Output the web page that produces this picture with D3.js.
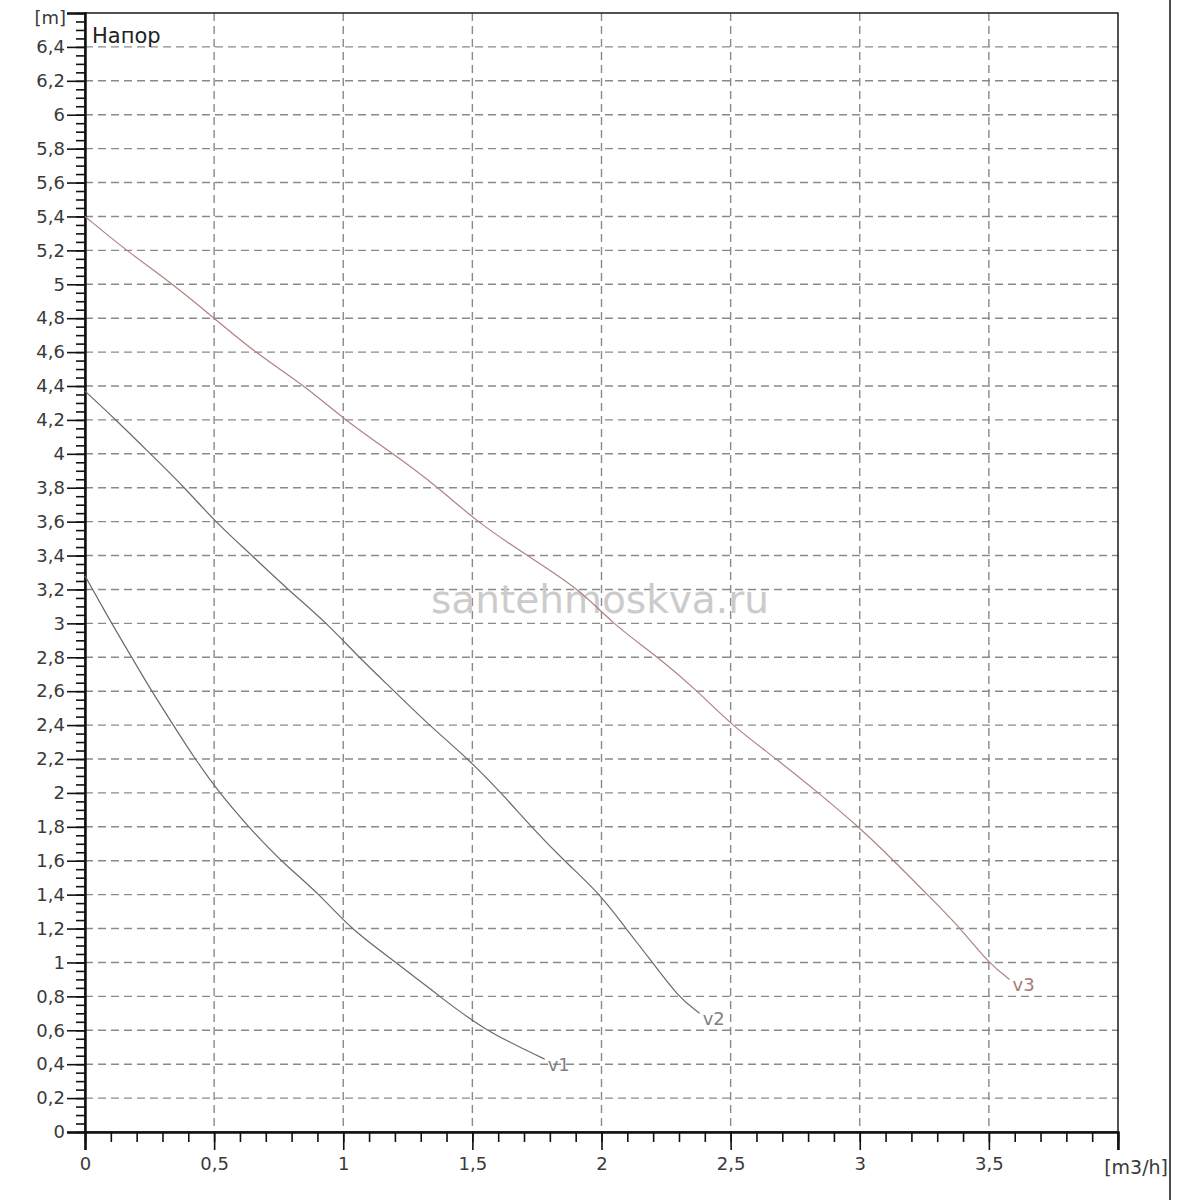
<!DOCTYPE html>
<html>
<head>
<meta charset="utf-8">
<script src="https://cdn.jsdelivr.net/npm/d3@7"></script>
<style>
  html, body { margin: 0; padding: 0; background: #fff; }
  svg { display: block; }
  text { font-family: "DejaVu Sans", Verdana, sans-serif; }
</style>
</head>
<body>
<svg id="chart" width="1200" height="1200"></svg>
<script>
// ---- data ----
const xTicks = [0, 0.5, 1, 1.5, 2, 2.5, 3, 3.5];
const yTicks = [0, 0.2, 0.4, 0.6, 0.8, 1, 1.2, 1.4, 1.6, 1.8, 2, 2.2, 2.4, 2.6, 2.8, 3, 3.2, 3.4, 3.6, 3.8, 4, 4.2, 4.4, 4.6, 4.8, 5, 5.2, 5.4, 5.6, 5.8, 6, 6.2, 6.4];
const seriesNames = ["v1", "v2", "v3"];
const v1Flow = [0, 0.103, 0.181, 0.258, 0.342, 0.426, 0.52, 0.633, 0.756, 0.911, 1.026, 1.205, 1.373, 1.545, 1.78];
const v1Head = [3.28, 3.0, 2.8, 2.6, 2.4, 2.2, 2.0, 1.8, 1.6, 1.4, 1.2, 1.0, 0.8, 0.6, 0.43];
const v2Flow = [0, 0.12, 0.253, 0.387, 0.503, 0.647, 0.785, 0.938, 1.06, 1.198, 1.332, 1.484, 1.612, 1.728, 1.855, 1.997, 2.094, 2.198, 2.295, 2.38];
const v2Head = [4.37, 4.2, 4.0, 3.8, 3.6, 3.4, 3.2, 3.0, 2.8, 2.6, 2.4, 2.2, 2.0, 1.8, 1.6, 1.4, 1.2, 1.0, 0.8, 0.7];
const v3Flow = [0, 0.159, 0.341, 0.5, 0.655, 0.853, 1.005, 1.194, 1.37, 1.516, 1.712, 1.918, 2.04, 2.22, 2.373, 2.503, 2.678, 2.84, 2.996, 3.132, 3.262, 3.392, 3.496, 3.58];
const v3Head = [5.4, 5.2, 5.0, 4.8, 4.6, 4.4, 4.2, 4.0, 3.8, 3.6, 3.4, 3.2, 3.0, 2.8, 2.6, 2.4, 2.2, 2.0, 1.8, 1.6, 1.4, 1.2, 1.0, 0.9];
const seriesColors = ["#6a6a6a", "#6a6a6a", "#b08282"];
const labelColors = ["#808080", "#808080", "#a87878"];

// ---- layout ----
const svg = d3.select("#chart");
const mLeft = 85, mRight = 1118, mTop = 13, mBottom = 1132;
const x = d3.scaleLinear().domain([0, 4]).range([mLeft, mRight]);
const y = d3.scaleLinear().domain([0, 6.6]).range([mBottom, mTop]);
const fmt = d => String(+d.toFixed(2)).replace(".", ",");
const FONT = "'DejaVu Sans', Verdana, sans-serif";

// grid
const grid = svg.append("g").attr("stroke", "#8a8a8a").attr("stroke-width", 1.4).attr("stroke-dasharray", "8,5");
grid.selectAll("line.gy").data(yTicks.filter(d => d > 0)).join("line").attr("class", "gy")
  .attr("x1", mLeft).attr("x2", mRight).attr("y1", d => y(d)).attr("y2", d => y(d));
grid.selectAll("line.gx").data(xTicks.filter(d => d > 0)).join("line").attr("class", "gx")
  .attr("y1", mTop).attr("y2", mBottom).attr("x1", d => x(d)).attr("x2", d => x(d));

// frame
svg.append("rect").attr("x", mLeft).attr("y", mTop).attr("width", mRight - mLeft).attr("height", mBottom - mTop)
  .attr("fill", "none").attr("stroke", "#1a1a1a").attr("stroke-width", 1.5);
svg.append("line").attr("x1", 1170).attr("x2", 1170).attr("y1", 0).attr("y2", 1200)
  .attr("stroke", "#222").attr("stroke-width", 1.6);

// axes
const yAxisMinor = d3.axisLeft(y).tickValues(d3.range(0, 6.6001, 0.05)).tickSize(9).tickFormat("");
svg.append("g").attr("transform", `translate(${mLeft},0)`).call(yAxisMinor)
  .call(g => g.select(".domain").remove())
  .call(g => g.selectAll("line").attr("stroke", "#111").attr("stroke-width", 1.6));
const yAxis = d3.axisLeft(y).tickValues(yTicks).tickSize(18).tickPadding(2).tickFormat(fmt);
svg.append("g").attr("transform", `translate(${mLeft},0)`).call(yAxis)
  .call(g => g.select(".domain").attr("stroke", "#111").attr("stroke-width", 2.5))
  .call(g => g.selectAll("line").attr("stroke", "#111").attr("stroke-width", 1.6))
  .call(g => g.selectAll("text").attr("font-size", 18).attr("fill", "#3a3a3a").attr("font-family", FONT));

const xAxisMinor = d3.axisBottom(x).tickValues(d3.range(0, 4.0001, 0.1)).tickSize(10).tickFormat("");
svg.append("g").attr("transform", `translate(0,${mBottom})`).call(xAxisMinor)
  .call(g => g.select(".domain").remove())
  .call(g => g.selectAll("line").attr("stroke", "#111").attr("stroke-width", 1.6));
const xAxis = d3.axisBottom(x).tickValues(xTicks).tickSize(18).tickPadding(7).tickFormat(fmt);
svg.append("g").attr("transform", `translate(0,${mBottom})`).call(xAxis)
  .call(g => g.select(".domain").attr("stroke", "#111").attr("stroke-width", 2.5))
  .call(g => g.selectAll("line").attr("stroke", "#111").attr("stroke-width", 1.6))
  .call(g => g.selectAll("text").attr("font-size", 18).attr("fill", "#3a3a3a").attr("font-family", FONT));
svg.append("line").attr("x1", mRight).attr("x2", mRight).attr("y1", mBottom).attr("y2", mBottom + 18)
  .attr("stroke", "#111").attr("stroke-width", 1.6);

// unit labels
svg.append("text").attr("x", 66).attr("y", 24).attr("text-anchor", "end")
  .attr("font-size", 18).attr("fill", "#3a3a3a").text("[m]");
svg.append("text").attr("x", 1168).attr("y", 1174).attr("text-anchor", "end")
  .attr("font-size", 19).attr("fill", "#3a3a3a").text("[m3/h]");
svg.append("text").attr("x", 92).attr("y", 43)
  .attr("font-size", 21).attr("fill", "#222").text("Напор");

// watermark
svg.append("text").attr("x", 600).attr("y", 613).attr("text-anchor", "middle")
  .attr("font-size", 39).attr("fill", "#cbcbcb")
  .attr("font-family", "'Open Sans', 'Noto Sans', sans-serif").text("santehmoskva.ru");

// curves
const series = [
  { name: seriesNames[0], flow: v1Flow, head: v1Head },
  { name: seriesNames[1], flow: v2Flow, head: v2Head },
  { name: seriesNames[2], flow: v3Flow, head: v3Head }
];
const line = d3.line().x(d => x(d[0])).y(d => y(d[1])).curve(d3.curveBasis);
series.forEach((s, i) => {
  const pts = s.flow.map((f, j) => [f, s.head[j]]);
  svg.append("path").datum(pts).attr("d", line)
    .attr("fill", "none").attr("stroke", seriesColors[i]).attr("stroke-width", 1.2);
  const last = pts[pts.length - 1];
  svg.append("text").attr("x", x(last[0]) + 3).attr("y", y(last[1]) + 12)
    .attr("font-size", 18).attr("fill", labelColors[i]).text(s.name);
});
</script>
</body>
</html>
